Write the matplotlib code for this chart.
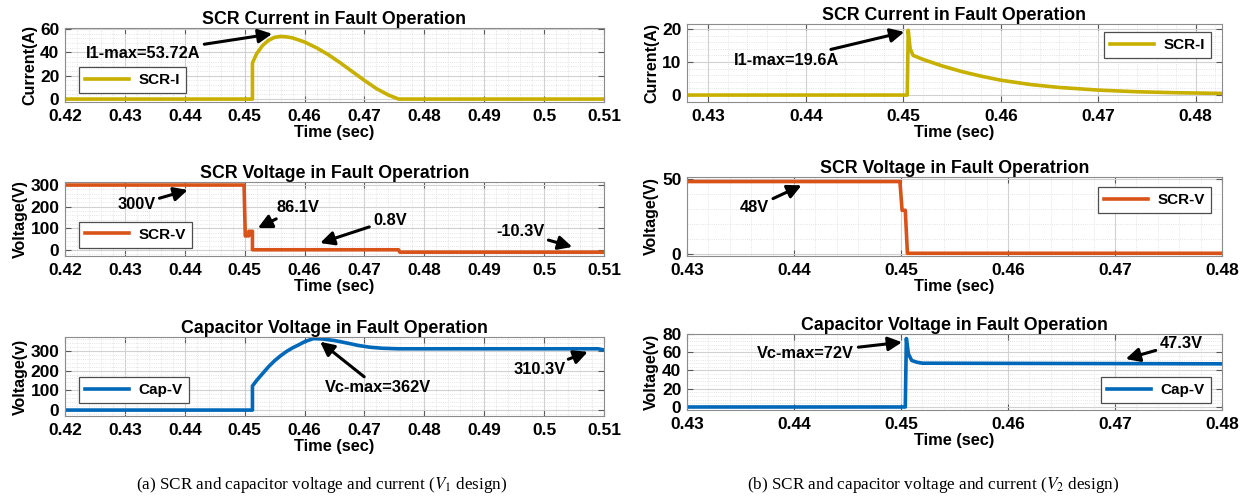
import numpy as np
import matplotlib.pyplot as plt
from matplotlib.ticker import AutoMinorLocator, FixedLocator

plt.rcParams['font.family'] = ['Liberation Sans', 'DejaVu Sans']
plt.rcParams['mathtext.fontset'] = 'stix'

# ---- (a) V1 design ----
t_i1 = [0.42, 0.4513, 0.4513, 0.452, 0.453, 0.454, 0.455, 0.456, 0.457, 0.458, 0.46,
        0.462, 0.464, 0.466, 0.468, 0.47, 0.472, 0.474, 0.4757, 0.51]
i1 = [0, 0, 31, 39, 46, 50.5, 53, 53.72, 53.4, 52.5, 49,
      44, 38, 31, 23.5, 16, 9, 3.5, 0, 0]

t_v1 = [0.42, 0.4499, 0.4501, 0.4507, 0.4507, 0.4513, 0.4513, 0.4757, 0.4759, 0.51]
v1 = [300, 300, 65, 65, 86.1, 86.1, 0.8, 0.8, -10.3, -10.3]

t_c1 = [0.42, 0.4513, 0.4513, 0.452, 0.453, 0.454, 0.455, 0.456, 0.457, 0.458, 0.459,
        0.46, 0.461, 0.4615, 0.463, 0.465, 0.467, 0.469, 0.471, 0.473, 0.4757, 0.509, 0.51]
c1 = [0, 0, 122, 150, 185, 220, 250, 275, 297, 315, 330,
      346, 357, 362, 360, 352, 340, 327, 318, 313, 310.3, 310.3, 304]

# ---- (b) V2 design ----
t_i2 = [0.4278, 0.4504, 0.4505, 0.4507, 0.451, 0.452, 0.454, 0.456, 0.458, 0.46,
        0.463, 0.466, 0.47, 0.474, 0.478, 0.4827]
i2 = [0, 0, 19.6, 14, 12, 10.8, 8.8, 7.1, 5.7, 4.5,
      3.2, 2.3, 1.5, 1.0, 0.7, 0.5]

t_v2 = [0.43, 0.4499, 0.4501, 0.4504, 0.4506, 0.48]
v2 = [48, 48, 29, 29, 0.6, 0.6]

t_c2 = [0.43, 0.4504, 0.4505, 0.4507, 0.451, 0.4515, 0.452, 0.48]
c2 = [0, 0, 75, 58, 51, 49, 48, 47.3]

x_ticks_a = [0.42, 0.43, 0.44, 0.45, 0.46, 0.47, 0.48, 0.49, 0.5, 0.51]
x_labels_a = ['0.42', '0.43', '0.44', '0.45', '0.46', '0.47', '0.48', '0.49', '0.5', '0.51']
x_ticks_b = [0.43, 0.44, 0.45, 0.46, 0.47, 0.48]
x_labels_b = ['0.43', '0.44', '0.45', '0.46', '0.47', '0.48']

# annotations: (text, text position, arrow tip)
notes_i1 = [("I1-max=53.72A", (0.433, 39), (0.4546, 56))]
notes_v1 = [("300V", (0.4319, 208), (0.4405, 277)),
            ("86.1V", (0.4589, 194), (0.4522, 101)),
            ("0.8V", (0.4743, 138), (0.4626, 32)),
            ("-10.3V", (0.496, 83), (0.5047, 14))]
notes_c1 = [("Vc-max=362V", (0.4723, 112), (0.4626, 346)),
            ("310.3V", (0.4993, 203), (0.5073, 295))]
notes_i2 = [("I1-max=19.6A", (0.438, 10.6), (0.4501, 19.1))]
notes_v2 = [("48V", (0.4363, 31), (0.4407, 45.5))]
notes_c2 = [("Vc-max=72V", (0.4411, 59), (0.4501, 71)),
            ("47.3V", (0.4762, 70), (0.4710, 52.6))]

C_I = '#C8B000'
C_V = '#D95319'
C_C = '#0068B8'

W, H = 1247, 498
fig = plt.figure(figsize=(W / 100, H / 100), dpi=100)


def px_axes(x0, x1, y0, y1):
    return fig.add_axes([x0 / W, 1 - y1 / H, (x1 - x0) / W, (y1 - y0) / H])


def panel(ax, t, y, color, label, title, ylabel, xlim, ylim, yticks,
          xticks, xlabels, notes, leg_loc, leg_anchor):
    ax.plot(t, y, color=color, lw=2.6, label=label)
    ax.set_xlim(*xlim)
    ax.set_ylim(*ylim)
    ax.xaxis.set_major_locator(FixedLocator(xticks))
    ax.set_xticklabels(xlabels)
    ax.set_yticks(yticks)
    ax.xaxis.set_minor_locator(AutoMinorLocator(5))
    ax.yaxis.set_minor_locator(AutoMinorLocator(5))
    ax.grid(which='major', color='0.82', lw=0.8)
    ax.grid(which='minor', color='0.86', lw=0.6, ls=':')
    ax.set_axisbelow(True)
    ax.tick_params(which='both', direction='in', top=True, right=True,
                   color='0.35', labelsize=12.5, pad=4)
    ax.tick_params(axis='x', pad=5)
    ax.tick_params(which='major', length=4)
    ax.tick_params(which='minor', length=0)
    for lbl in ax.get_xticklabels() + ax.get_yticklabels():
        lbl.set_fontweight('bold')
    for s in ax.spines.values():
        s.set_color('0.55')
        s.set_linewidth(0.8)
    ax.set_title(title, fontsize=12.8, fontweight='bold', pad=3)
    ax.set_xlabel('Time (sec)', fontsize=11.8, fontweight='bold', labelpad=1)
    ax.set_ylabel(ylabel, fontsize=11.5, fontweight='bold', labelpad=2)
    for txt, xy_t, xy in notes:
        ax.annotate(txt, xy=xy, xytext=xy_t, ha='center', va='center',
                    fontsize=11.8, fontweight='bold',
                    arrowprops=dict(arrowstyle='-|>,head_length=0.7,head_width=0.35',
                                    color='k', lw=2.2, shrinkA=1, shrinkB=0))
    leg = ax.legend(loc=leg_loc, bbox_to_anchor=leg_anchor,
                    prop={'size': 11, 'weight': 'bold'},
                    handlelength=2.9, handletextpad=0.6, fancybox=False, framealpha=1,
                    edgecolor='0.3', borderpad=0.4, borderaxespad=0)
    leg.get_frame().set_linewidth(0.9)


panel(px_axes(65, 604, 28, 102), t_i1, i1, C_I, 'SCR-I',
      'SCR Current in Fault Operation', 'Current(A)', (0.42, 0.51), (-2.5, 61),
      [0, 20, 40, 60], x_ticks_a, x_labels_a, notes_i1, 'lower left', (0.026, 0.12))
panel(px_axes(65, 604, 182, 256), t_v1, v1, C_V, 'SCR-V',
      'SCR Voltage in Fault Operatrion', 'Voltage(V)', (0.42, 0.51), (-28, 314),
      [0, 100, 200, 300], x_ticks_a, x_labels_a, notes_v1, 'lower left', (0.026, 0.11))
panel(px_axes(65, 604, 337, 416), t_c1, c1, C_C, 'Cap-V',
      'Capacitor Voltage in Fault Operation', 'Voltage(v)', (0.42, 0.51), (-30, 370),
      [0, 100, 200, 300], x_ticks_a, x_labels_a, notes_c1, 'lower left', (0.026, 0.16))

panel(px_axes(687, 1222, 24, 102), t_i2, i2, C_I, 'SCR-I',
      'SCR Current in Fault Operation', 'Current(A)', (0.4278, 0.4827), (-2.1, 21.5),
      [0, 10, 20], x_ticks_b, x_labels_b, notes_i2, 'upper right', (0.979, 0.9))
panel(px_axes(687, 1222, 177, 256), t_v2, v2, C_V, 'SCR-V',
      'SCR Voltage in Fault Operatrion', 'Voltage(V)', (0.43, 0.48), (-1.2, 51),
      [0, 50], x_ticks_b, x_labels_b, notes_v2, 'upper right', (0.979, 0.87))
panel(px_axes(687, 1222, 334, 410), t_c2, c2, C_C, 'Cap-V',
      'Capacitor Voltage in Fault Operation', 'Voltage(v)', (0.43, 0.48), (-3.3, 80),
      [0, 20, 40, 60, 80], x_ticks_b, x_labels_b, notes_c2, 'lower right', (0.979, 0.09))

fig.text(322 / W, 1 - 485 / H, r'(a) SCR and capacitor voltage and current ($V_1$ design)',
         ha='center', va='center', fontsize=12.3, family='Liberation Serif')
fig.text(933 / W, 1 - 485 / H, r'(b) SCR and capacitor voltage and current ($V_2$ design)',
         ha='center', va='center', fontsize=12.3, family='Liberation Serif')

fig.savefig('out.png', dpi=100)
